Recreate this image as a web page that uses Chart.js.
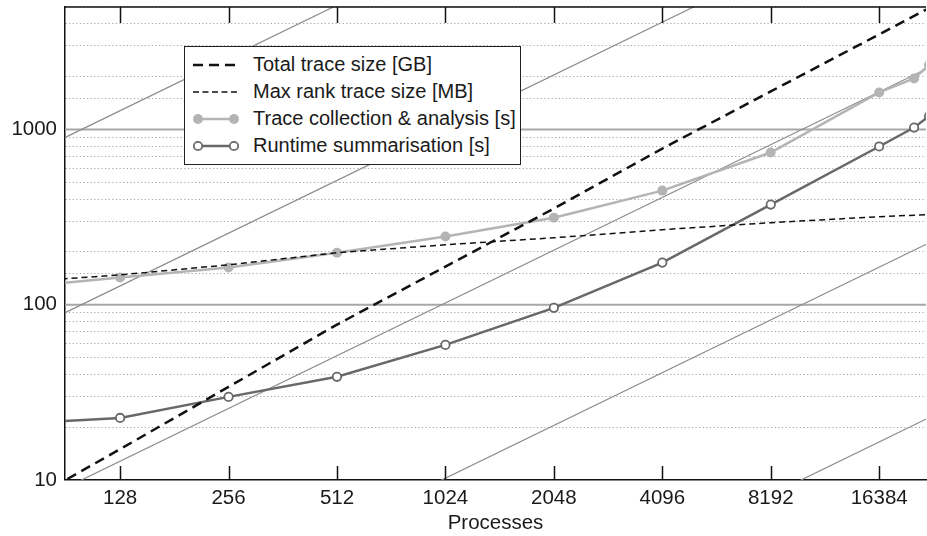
<!DOCTYPE html>
<html>
<head>
<meta charset="utf-8">
<script src="https://cdn.jsdelivr.net/npm/chart.js@4.4.1/dist/chart.umd.min.js"></script>
<style>
  html, body { margin: 0; padding: 0; background: #fff; }
  #wrap { position: relative; width: 927px; height: 536px; overflow: hidden; }
  #inner { position: absolute; left: 0; top: 0; width: 932px; height: 536px; }
  #legend {
    position: absolute; left: 184px; top: 46px; width: 335px; height: 113px;
    border: 1.5px solid #222; background: #fff; padding-top: 4px;
    font-family: "Liberation Sans", Arial, sans-serif; font-size: 20px; color: #1a1a1a;
  }
  #legend .row { display: flex; align-items: center; height: 27px; }
  #legend svg { margin-left: 6px; margin-right: 12px; }
</style>
</head>
<body>
<div id="wrap">
  <div id="inner"><canvas id="scalingChart"></canvas></div>
  <div id="legend"></div>
</div>
<script>
// valores
var xTicks = [128, 256, 512, 1024, 2048, 4096, 8192, 16384];

var runProcs = [64, 128, 256, 512, 1024, 2048, 4096, 8192, 16384, 20480, 22528];
var traceAnalysis = [125, 143, 163, 198, 245, 314, 448, 739, 1627, 1956, 2330];
var runtimeSummary = [20.9, 22.6, 29.8, 38.8, 59, 96, 174, 373, 800, 1026, 1190];

var sizeProcs = [64, 128, 256, 512, 1024, 2048, 4096, 8192, 16384, 32768];
var totalTraceGB = [6.7, 15.0, 34, 77, 165, 354, 778, 1649, 3490, 7400];
var maxRankMB = [134, 148, 169, 198, 220, 241, 268, 294, 318, 338];

// lineas de escalado ideal (extremos en 64 y 32768 procesos)
var refProcs = [64, 32768];
var refLines = [
    [640, 327680],
    [64, 32768],
    [6.4, 3277],
    [0.64, 328],
    [0.064, 33]
];

var FONT = '"Liberation Sans", Arial, sans-serif';

function pts(xs, ys) {
    return xs.map(function (x, i) { return { x: x, y: ys[i] }; });
}

function isMajor(v) {
    var l = Math.log10(v);
    return Math.abs(l - Math.round(l)) < 1e-9;
}

/****************************************************** plugins **************************************/
// lineas solidas en las decadas (10, 100, 1000...)
var majorGridPlugin = {
    id: 'majorGrid',
    beforeDatasetsDraw: function (chart) {
        var ctx = chart.ctx, a = chart.chartArea, y = chart.scales.y;
        ctx.save();
        ctx.strokeStyle = '#a8a8a8';
        ctx.lineWidth = 2;
        ctx.beginPath();
        y.ticks.forEach(function (t) {
            if (!isMajor(t.value) || t.value <= y.min) return;
            var py = y.getPixelForValue(t.value);
            ctx.moveTo(a.left, py);
            ctx.lineTo(a.right, py);
        });
        ctx.stroke();
        ctx.restore();
    }
};

// marco superior y marcas hacia dentro
var framePlugin = {
    id: 'frame',
    afterDraw: function (chart) {
        var ctx = chart.ctx, a = chart.chartArea, x = chart.scales.x;
        ctx.save();
        ctx.strokeStyle = '#111';
        ctx.lineWidth = 1.5;
        ctx.beginPath();
        ctx.moveTo(a.left, a.top);
        ctx.lineTo(a.right, a.top);
        xTicks.forEach(function (v) {
            var px = Math.round(x.getPixelForValue(v)) + 0.5;
            ctx.moveTo(px, a.bottom);
            ctx.lineTo(px, a.bottom - 14);
            ctx.moveTo(px, a.top);
            ctx.lineTo(px, a.top + 16);
        });
        ctx.stroke();
        ctx.restore();
    }
};

var datasets = [
    {
        label: 'Total trace size [GB]',
        data: pts(sizeProcs, totalTraceGB),
        borderColor: '#111', borderWidth: 2.5, borderDash: [10, 6],
        pointRadius: 0, legend: 'dashBig'
    },
    {
        label: 'Max rank trace size [MB]',
        data: pts(sizeProcs, maxRankMB),
        borderColor: '#111', borderWidth: 1.5, borderDash: [6, 4],
        pointRadius: 0, legend: 'dashSmall'
    },
    {
        label: 'Trace collection & analysis [s]',
        data: pts(runProcs, traceAnalysis),
        borderColor: '#b4b4b4', borderWidth: 2.5,
        pointRadius: 5, pointBackgroundColor: '#b4b4b4', pointBorderWidth: 0,
        legend: 'filled'
    },
    {
        label: 'Runtime summarisation [s]',
        data: pts(runProcs, runtimeSummary),
        borderColor: '#686868', borderWidth: 2.5,
        pointRadius: 4.2, pointBackgroundColor: '#fff', pointBorderColor: '#686868', pointBorderWidth: 1.8,
        legend: 'open'
    }
];

refLines.forEach(function (r) {
    datasets.push({
        label: '', data: pts(refProcs, r),
        borderColor: '#8c8c8c', borderWidth: 1.2, pointRadius: 0
    });
});

var chart = new Chart(document.getElementById('scalingChart').getContext('2d'), {
    type: 'line',
    data: { datasets: datasets },
    options: {
        responsive: true,
        maintainAspectRatio: false,
        animation: false,
        layout: { padding: { top: 7, right: 0, left: 0, bottom: 0 } },
        elements: { line: { tension: 0 } },
        plugins: { legend: { display: false }, tooltip: { enabled: false } },
        scales: {
            x: {
                type: 'logarithmic', min: 90, max: 22100,
                afterBuildTicks: function (s) { s.ticks = xTicks.map(function (v) { return { value: v }; }); },
                afterFit: function (s) { s.height = 56; s.paddingLeft = 0; s.paddingRight = 0; },
                grid: { display: false, drawTicks: false },
                border: { display: true, color: '#111', width: 1.5 },
                ticks: {
                    autoSkip: false, maxRotation: 0, padding: 6, color: '#1a1a1a',
                    font: { family: FONT, size: 20.5 },
                    callback: function (v) { return String(v); }
                },
                title: {
                    display: true, text: 'Processes', color: '#1a1a1a',
                    font: { family: FONT, size: 20.5 }, padding: { top: 0, bottom: 0 }
                }
            },
            y: {
                type: 'logarithmic', position: 'left', min: 10, max: 5000,
                afterFit: function (s) { s.width = 65; s.paddingTop = 0; s.paddingBottom = 0; },
                grid: {
                    drawTicks: false, lineWidth: 1.1,
                    color: function (c) { return c.tick && isMajor(c.tick.value) ? 'rgba(0,0,0,0)' : '#a3a3a3'; }
                },
                border: { display: true, color: '#111', width: 1.5, dash: [1.2, 2.4] },
                ticks: {
                    autoSkip: false, padding: 8, color: '#1a1a1a',
                    font: { family: FONT, size: 20.5 },
                    callback: function (v) { return isMajor(v) ? String(v) : ''; }
                }
            }
        }
    },
    plugins: [majorGridPlugin, framePlugin]
});

/****************************************************** leyenda **************************************/
function sampleSvg(kind) {
    var s = '<svg width="50" height="20" viewBox="0 0 50 20">';
    if (kind === 'dashBig') {
        s += '<line x1="2" y1="10" x2="48" y2="10" stroke="#111" stroke-width="2.5" stroke-dasharray="10 6"/>';
    } else if (kind === 'dashSmall') {
        s += '<line x1="2" y1="10" x2="48" y2="10" stroke="#111" stroke-width="1.5" stroke-dasharray="6 3.5"/>';
    } else if (kind === 'filled') {
        s += '<line x1="7" y1="10" x2="43" y2="10" stroke="#b4b4b4" stroke-width="2.5"/>';
        s += '<circle cx="7" cy="10" r="5" fill="#b4b4b4"/><circle cx="43" cy="10" r="5" fill="#b4b4b4"/>';
    } else {
        s += '<line x1="7" y1="10" x2="43" y2="10" stroke="#686868" stroke-width="2.5"/>';
        s += '<circle cx="7" cy="10" r="4.2" fill="#fff" stroke="#686868" stroke-width="1.8"/>';
        s += '<circle cx="43" cy="10" r="4.2" fill="#fff" stroke="#686868" stroke-width="1.8"/>';
    }
    return s + '</svg>';
}

var legendHtml = '';
chart.data.datasets.forEach(function (d) {
    if (!d.legend) return;
    legendHtml += '<div class="row">' + sampleSvg(d.legend) + '<span></span></div>';
});
var legendEl = document.getElementById('legend');
legendEl.innerHTML = legendHtml;
var spans = legendEl.querySelectorAll('span'), k = 0;
chart.data.datasets.forEach(function (d) {
    if (d.legend) { spans[k++].textContent = d.label; }
});
</script>
</body>
</html>
